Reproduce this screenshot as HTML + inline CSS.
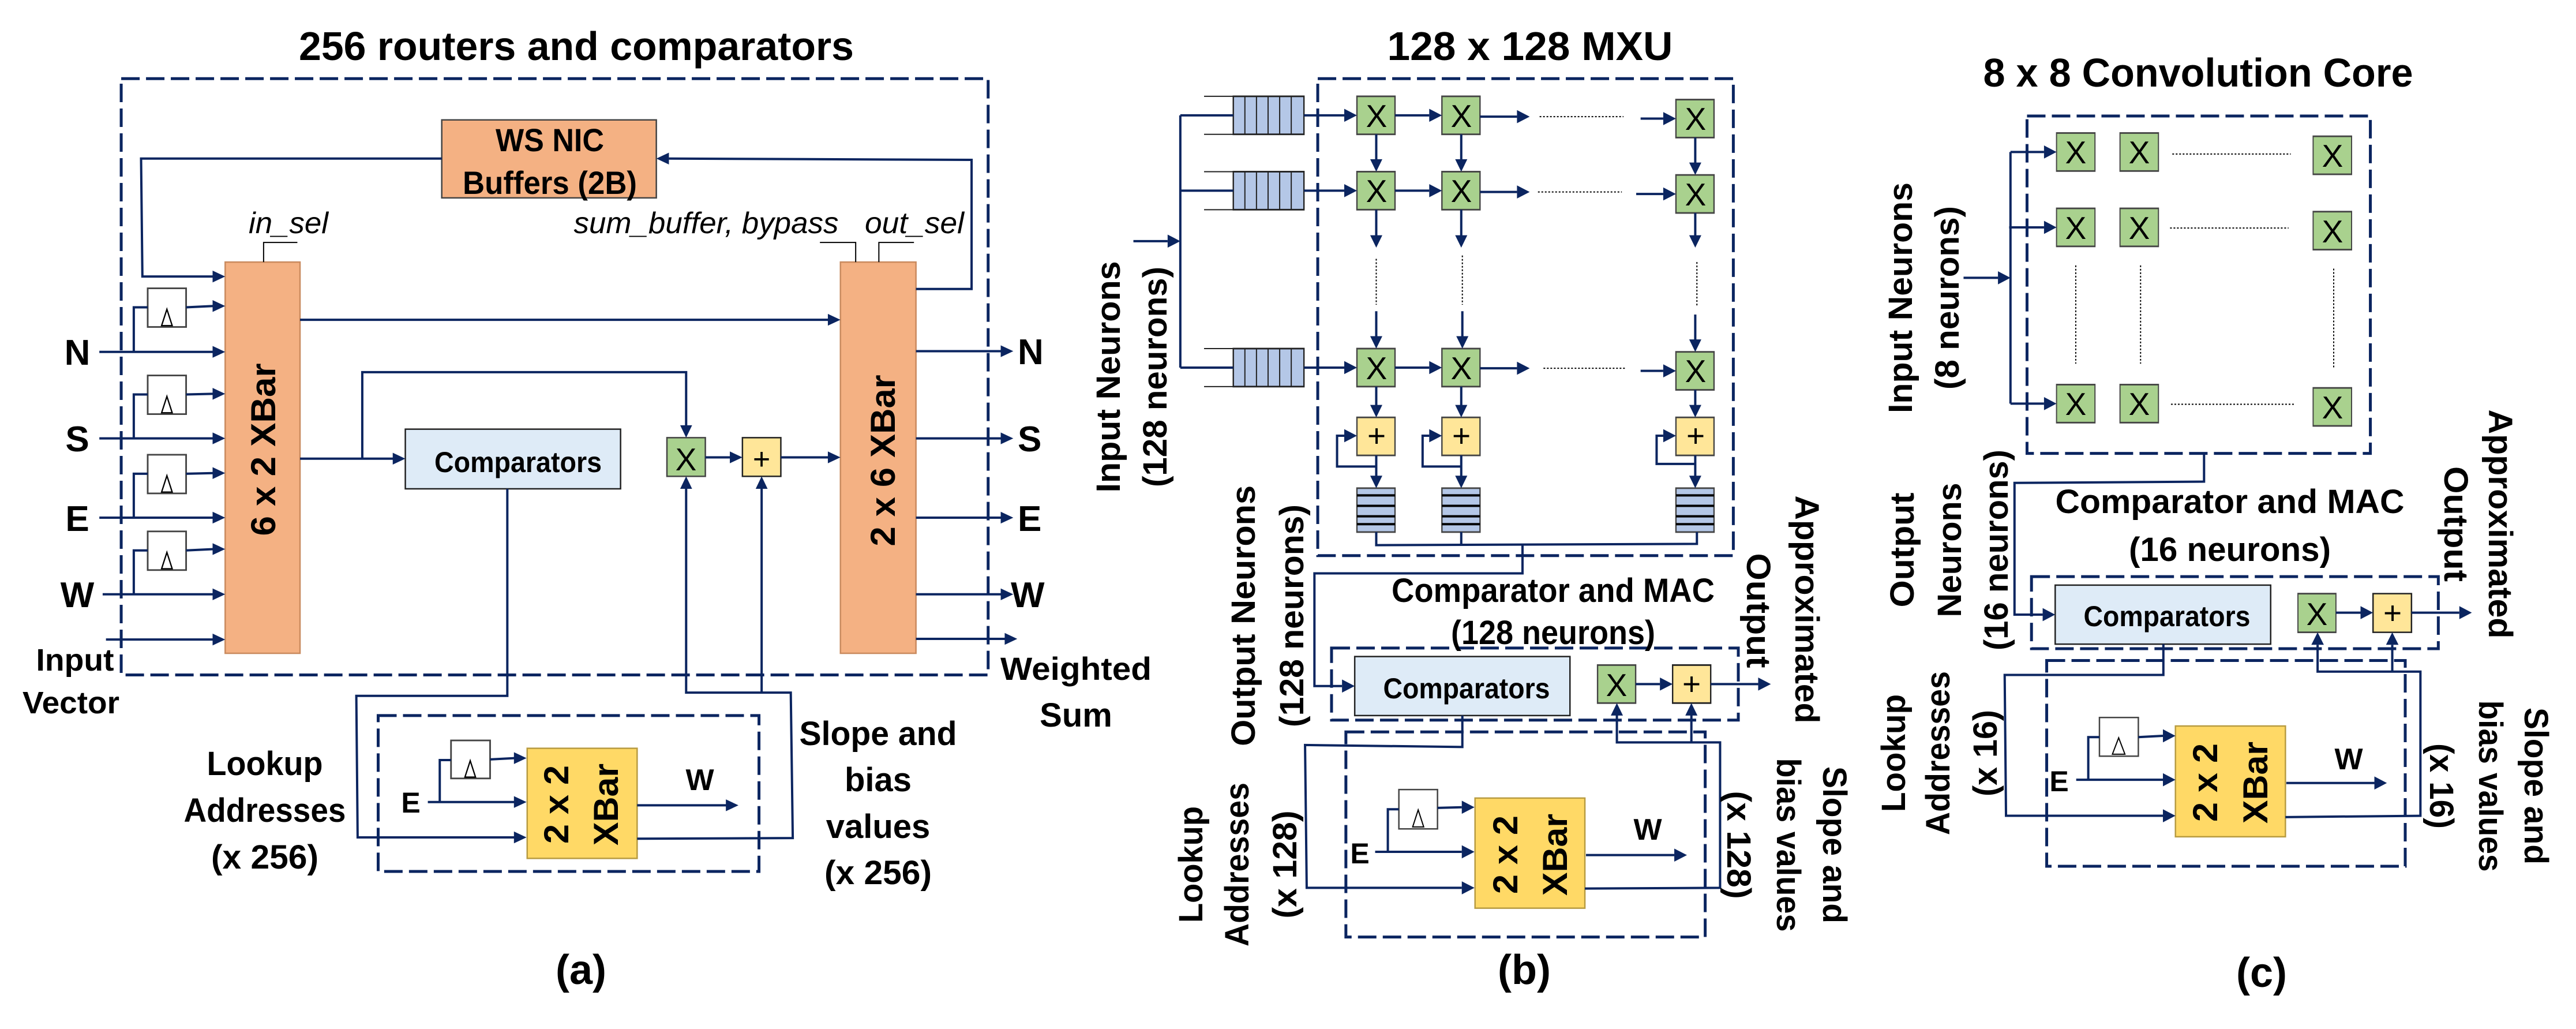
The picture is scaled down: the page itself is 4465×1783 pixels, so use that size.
<!DOCTYPE html>
<html><head><meta charset="utf-8"><style>
html,body{margin:0;padding:0;background:#fff}
svg text{font-family:"Liberation Sans",Arial,sans-serif;fill:#000}
.ln{fill:none;stroke:#0b2560;stroke-width:4;vector-effect:non-scaling-stroke}
.dl{fill:none;stroke:#0b2560;stroke-width:5;stroke-dasharray:32 11;vector-effect:non-scaling-stroke}
.dt{fill:none;stroke:#000;stroke-width:2;stroke-dasharray:3 3;vector-effect:non-scaling-stroke}
.tk{fill:none;stroke:#000;stroke-width:2;vector-effect:non-scaling-stroke}
.ah{fill:#0b2560;stroke:none}
.bx{stroke:#444;stroke-width:2.5;vector-effect:non-scaling-stroke}
.or{fill:#F4B183}.gr{fill:#A9D18E}.ye{fill:#FFE699}.yx{fill:#FFD966}.bl{fill:#DEEBF7}.qu{fill:#B4C7E7}.wh{fill:#fff}
.b{font-weight:bold}
</style></head><body>
<svg xmlns="http://www.w3.org/2000/svg" width="4465" height="1778" viewBox="0 0 4465 1778">
<rect width="4465" height="1778" fill="#fff"/>

<!-- ================= PANEL A ================= -->
<svg x="0" y="0" width="1800" height="1778" viewBox="0 0 1568 1566" preserveAspectRatio="none">
<rect class="dl" x="183" y="120" width="1309" height="910"/>
<rect class="bx or" x="667" y="183" width="324" height="119"/>
<rect class="bx or" x="340" y="400" width="113" height="597" style="stroke:#c98a5e"/>
<rect class="bx or" x="1269" y="400" width="114" height="597" style="stroke:#c98a5e"/>
<rect class="bx bl" x="612" y="655" width="325" height="91" style="stroke:#222"/>
<rect class="bx gr" x="1007" y="668" width="58" height="59"/>
<rect class="bx ye" x="1121" y="668" width="58" height="59" style="stroke:#222"/>
<rect class="dl" x="571" y="1092" width="575" height="238"/>
<rect class="bx yx" x="796" y="1142" width="166" height="168" style="stroke:#b89b40"/>
<g class="bx wh">
<rect x="223" y="440" width="58" height="59"/><rect x="223" y="573" width="58" height="59"/>
<rect x="223" y="694" width="58" height="59"/><rect x="223" y="811" width="58" height="59"/>
<rect x="681" y="1130" width="59" height="58"/>
</g>
<g fill="none" stroke="#000" stroke-width="2" style="vector-effect:non-scaling-stroke">
<path d="M244 497 L252 472 L260 497 Z M244 630 L252 605 L260 630 Z M244 751 L252 726 L260 751 Z M244 868 L252 843 L260 868 Z M702 1186 L710 1161 L718 1186 Z"/>
</g>
<path class="tk" d="M398 400 V370 H449 M1238 370 H1292 V400 M1327 400 V370 H1380"/>
<path class="ln" d="M667 242 H213 L215 422 H322 M1383 441 H1467 V244 L1010 242
M150 537 H322 M150 669 H322 M150 790 H322 M155 907 H322 M160 976 H322
M202 537 V469 H223 M202 669 V602 H223 M202 790 V723 H223 M202 907 V840 H223
M281 469 L322 467 M281 602 L322 601 M281 723 L322 722 M281 840 L322 838
M453 488 H1251 M453 700 L594 700 M547 700 V568 H1036 V650
M1065 698 H1103 M1179 698 H1251
M1383 536 H1512 M1383 669 H1512 M1383 790 H1512 M1383 907 H1512 M1383 975 H1518
M766 746 V1062 H538 L540 1278 H777
M646 1224 H777 M664 1224 V1160 H681 M740 1159 L777 1157 M962 1229 H1097
M962 1280 L1197 1279 L1194 1057 H1036 V746 M1150 1057 V746"/>
<path class="ah" d="M340 422 l-19 -9 v18z M340 537 l-19 -9 v18z M340 669 l-19 -9 v18z M340 790 l-19 -9 v18z M340 907 l-19 -9 v18z M340 976 l-19 -9 v18z
M340 467 l-19 -9 v18z M340 601 l-19 -9 v18z M340 722 l-19 -9 v18z M340 838 l-19 -9 v18z
M1269 488 l-19 -9 v18z M612 700 l-19 -9 v18z M1121 698 l-19 -9 v18z M1269 698 l-19 -9 v18z
M1530 536 l-19 -9 v18z M1530 669 l-19 -9 v18z M1530 790 l-19 -9 v18z M1530 907 l-19 -9 v18z M1536 975 l-19 -9 v18z
M795 1278 l-19 -9 v18z M795 1224 l-19 -9 v18z M795 1157 l-19 -9 v18z M1115 1229 l-19 -9 v18z
M1036 668 l-9 -19 h18z M1036 727 l-9 19 h18z M1150 727 l-9 19 h18z M991 242 l19 -9 v18z"/>
</svg>

<!-- ================= PANEL B ================= -->
<svg x="1800" y="0" width="1500" height="1778" viewBox="0 0 1568 1566" preserveAspectRatio="none">
<rect class="dl" x="506" y="120" width="753" height="728"/>
<g class="bx qu" style="stroke:#222">
<rect x="353" y="147" width="128" height="58"/><rect x="353" y="262" width="128" height="58"/><rect x="353" y="532" width="128" height="58"/>
</g>
<path class="tk" style="stroke:#222" d="M374 147 V205 M395 147 V205 M416 147 V205 M437 147 V205 M458 147 V205
M374 262 V320 M395 262 V320 M416 262 V320 M437 262 V320 M458 262 V320
M374 532 V590 M395 532 V590 M416 532 V590 M437 532 V590 M458 532 V590
M300 147 H353 M300 205 H353 M300 262 H353 M300 320 H353 M300 532 H353 M300 590 H353"/>
<g class="bx gr">
<rect x="577" y="147" width="69" height="58"/><rect x="731" y="147" width="69" height="58"/><rect x="1155" y="152" width="69" height="58"/>
<rect x="577" y="262" width="69" height="58"/><rect x="731" y="262" width="69" height="58"/><rect x="1155" y="267" width="69" height="58"/>
<rect x="577" y="532" width="69" height="58"/><rect x="731" y="532" width="69" height="58"/><rect x="1155" y="537" width="69" height="58"/>
<rect x="1013" y="1015" width="69" height="58"/>
</g>
<g class="bx ye">
<rect x="577" y="637" width="69" height="58"/><rect x="731" y="637" width="69" height="58"/><rect x="1155" y="637" width="69" height="58"/>
<rect x="1149" y="1015" width="69" height="58" style="stroke:#222"/>
</g>
<g class="bx qu">
<rect x="577" y="745" width="69" height="67"/><rect x="731" y="745" width="69" height="67"/><rect x="1155" y="745" width="69" height="67"/>
</g>
<path fill="none" stroke="#000" stroke-width="4" style="vector-effect:non-scaling-stroke" d="M577 756 H646 M577 772 H646 M577 788 H646 M577 800 H646
M731 756 H800 M731 772 H800 M731 788 H800 M731 800 H800 M1155 756 H1224 M1155 772 H1224 M1155 788 H1224 M1155 800 H1224"/>
<rect class="dl" x="531" y="989" width="737" height="110"/>
<rect class="bx bl" x="573" y="1002" width="390" height="90" style="stroke:#222"/>
<rect class="dl" x="557" y="1117" width="651" height="313"/>
<rect class="bx yx" x="791" y="1218" width="199" height="168" style="stroke:#b89b40"/>
<rect class="bx wh" x="653" y="1205" width="70" height="60"/>
<path fill="none" stroke="#000" stroke-width="2" style="vector-effect:non-scaling-stroke" d="M678 1262 L688 1236 L698 1262 Z"/>
<path class="dt" d="M908 178 H1060 M905 293 H1057 M915 562 H1065 M612 395 V465 M768 390 V465 M1193 400 V468"/>
<path class="ln" d="M257 176 V561 M257 176 H353 M257 291 H353 M257 561 H353 M172 368 H234
M481 176 H554 M481 291 H554 M481 561 H554 M646 176 H708 M646 291 H708 M646 561 H708
M800 178 H867 M800 293 H867 M800 562 H867 M1091 181 H1132 M1083 296 H1132 M1091 566 H1132
M612 205 V244 M766 205 V244 M1190 210 V249 M612 320 V360 M766 320 V360 M1190 325 V360
M612 475 V514 M768 475 V514 M1190 480 V519 M612 590 V619 M766 590 V619 M1190 595 V619
M612 695 V727 M766 695 V727 M1190 695 V727
M612 712 H541 V665 H554 M766 712 H696 V665 H708 M1190 708 H1120 V665 H1132
M612 812 V832 L1193 830 V812 M766 812 V832 M877 831 V875 H500 V1047 H550
M1082 1044 H1126 M1218 1044 H1304
M768 1092 V1140 L483 1137 L486 1355 H767
M610 1300 H767 M633 1300 V1235 H653 M723 1233 L767 1232 M992 1305 H1152
M990 1356 L1235 1355 V1133 H1048 V1091 M1183 1133 V1091"/>
<path class="ah" d="M257 368 l-23 -10 v20z M577 176 l-23 -10 v20z M577 291 l-23 -10 v20z M577 561 l-23 -10 v20z
M731 176 l-23 -10 v20z M731 291 l-23 -10 v20z M731 561 l-23 -10 v20z
M890 178 l-23 -10 v20z M890 293 l-23 -10 v20z M890 562 l-23 -10 v20z
M1155 181 l-23 -10 v20z M1155 296 l-23 -10 v20z M1155 566 l-23 -10 v20z
M577 665 l-23 -10 v20z M731 665 l-23 -10 v20z M1155 665 l-23 -10 v20z
M573 1047 l-23 -10 v20z M1149 1044 l-23 -10 v20z M1327 1044 l-23 -10 v20z
M790 1355 l-23 -10 v20z M790 1300 l-23 -10 v20z M790 1232 l-23 -10 v20z M1175 1305 l-23 -10 v20z
M612 262 l-11 -19 h22z M766 262 l-11 -19 h22z M1190 267 l-11 -19 h22z
M612 378 l-11 -19 h22z M766 378 l-11 -19 h22z M1190 378 l-11 -19 h22z
M612 532 l-11 -19 h22z M768 532 l-11 -19 h22z M1190 537 l-11 -19 h22z
M612 637 l-11 -19 h22z M766 637 l-11 -19 h22z M1190 637 l-11 -19 h22z
M612 745 l-11 -19 h22z M766 745 l-11 -19 h22z M1190 745 l-11 -19 h22z
M1048 1073 l-11 19 h22z M1183 1073 l-11 19 h22z"/>
</svg>

<!-- ================= PANEL C ================= -->
<svg x="3250" y="0" width="1215" height="1778" viewBox="0 0 1568 1566" preserveAspectRatio="none">
<rect class="dl" x="340" y="177" width="768" height="515"/>
<g class="bx gr">
<rect x="406" y="203" width="86" height="58"/><rect x="548" y="203" width="86" height="58"/><rect x="980" y="208" width="86" height="58"/>
<rect x="406" y="318" width="86" height="58"/><rect x="548" y="318" width="86" height="58"/><rect x="980" y="323" width="86" height="58"/>
<rect x="406" y="587" width="86" height="58"/><rect x="548" y="587" width="86" height="58"/><rect x="980" y="592" width="86" height="58"/>
<rect x="946" y="906" width="85" height="59"/>
</g>
<rect class="bx ye" x="1114" y="906" width="86" height="59" style="stroke:#222"/>
<rect class="dl" x="350" y="880" width="910" height="110"/>
<rect class="bx bl" x="403" y="893" width="482" height="90" style="stroke:#222"/>
<rect class="dl" x="384" y="1008" width="802" height="314"/>
<rect class="bx yx" x="672" y="1108" width="246" height="169" style="stroke:#b89b40"/>
<rect class="bx wh" x="502" y="1095" width="87" height="59"/>
<path fill="none" stroke="#000" stroke-width="2" style="vector-effect:non-scaling-stroke" d="M531 1151 L545 1126 L559 1151 Z"/>
<path class="dt" d="M665 235 H930 M660 348 H925 M662 617 H937 M449 405 V555 M594 405 V555 M1026 410 V562"/>
<path class="ln" d="M303 232 V616 M303 232 H378 M300 347 H378 M303 616 H378 M198 424 H275
M736 692 V735 L312 737 V938 H375 M1031 935 H1086 M1200 935 H1307
M645 983 V1030 H290 L293 1245 H644 M450 1190 H644 M477 1190 V1125 H502 M589 1125 L644 1123
M920 1195 H1117 M918 1247 L1220 1245 V1025 H990 V984 M1157 1025 V984"/>
<path class="ah" d="M406 232 l-28 -10 v20z M406 347 l-28 -10 v20z M406 616 l-28 -10 v20z M303 424 l-28 -10 v20z
M403 938 l-28 -10 v20z M1114 935 l-28 -10 v20z M1335 935 l-28 -10 v20z
M672 1245 l-28 -10 v20z M672 1190 l-28 -10 v20z M672 1123 l-28 -10 v20z M1145 1195 l-28 -10 v20z
M990 965 l-14 19 h28z M1157 965 l-14 19 h28z"/>
</svg>

<!-- ================= TEXT PANEL A ================= -->
<g class="b">
<text x="999" y="104" font-size="70" text-anchor="middle" textLength="962" lengthAdjust="spacingAndGlyphs">256 routers and comparators</text>
<text x="953" y="262" font-size="56" text-anchor="middle" textLength="188" lengthAdjust="spacingAndGlyphs">WS NIC</text>
<text x="953" y="336" font-size="56" text-anchor="middle" textLength="302" lengthAdjust="spacingAndGlyphs">Buffers (2B)</text>
<text transform="translate(456,779) rotate(-90)" y="21" font-size="60" text-anchor="middle" textLength="299" lengthAdjust="spacingAndGlyphs">6 x 2 XBar</text>
<text transform="translate(1530,798) rotate(-90)" y="21" font-size="60" text-anchor="middle" textLength="297" lengthAdjust="spacingAndGlyphs">2 x 6 XBar</text>
<text x="898" y="818" font-size="50" text-anchor="middle" textLength="290" lengthAdjust="spacingAndGlyphs">Comparators</text>
<text x="134" y="632" font-size="62" text-anchor="middle">N</text>
<text x="134" y="782" font-size="62" text-anchor="middle">S</text>
<text x="134" y="920" font-size="62" text-anchor="middle">E</text>
<text x="134" y="1052" font-size="62" text-anchor="middle">W</text>
<text x="1764" y="631" font-size="62">N</text>
<text x="1764" y="782" font-size="62">S</text>
<text x="1764" y="920" font-size="62">E</text>
<text x="1752" y="1052" font-size="62">W</text>
<text x="130" y="1162" font-size="54" text-anchor="middle" textLength="135" lengthAdjust="spacingAndGlyphs">Input</text>
<text x="123" y="1236" font-size="54" text-anchor="middle" textLength="168" lengthAdjust="spacingAndGlyphs">Vector</text>
<text x="1865" y="1178" font-size="56" text-anchor="middle" textLength="262" lengthAdjust="spacingAndGlyphs">Weighted</text>
<text x="1865" y="1259" font-size="58" text-anchor="middle">Sum</text>
<text x="712" y="1408" font-size="50" text-anchor="middle">E</text>
<text transform="translate(964,1394) rotate(-90)" y="21" font-size="60" text-anchor="middle" textLength="136" lengthAdjust="spacingAndGlyphs">2 x 2</text>
<text transform="translate(1050,1394) rotate(-90)" y="21" font-size="60" text-anchor="middle" textLength="142" lengthAdjust="spacingAndGlyphs">XBar</text>
<text x="1213" y="1369" font-size="52" text-anchor="middle">W</text>
<text x="459" y="1343" font-size="58" text-anchor="middle" textLength="201" lengthAdjust="spacingAndGlyphs">Lookup</text>
<text x="459" y="1424" font-size="58" text-anchor="middle" textLength="281" lengthAdjust="spacingAndGlyphs">Addresses</text>
<text x="459" y="1505" font-size="58" text-anchor="middle" textLength="186" lengthAdjust="spacingAndGlyphs">(x 256)</text>
<text x="1522" y="1291" font-size="58" text-anchor="middle" textLength="273" lengthAdjust="spacingAndGlyphs">Slope and</text>
<text x="1522" y="1371" font-size="58" text-anchor="middle">bias</text>
<text x="1522" y="1452" font-size="58" text-anchor="middle">values</text>
<text x="1522" y="1532" font-size="58" text-anchor="middle" textLength="186" lengthAdjust="spacingAndGlyphs">(x 256)</text>
<text x="1007" y="1705" font-size="72" text-anchor="middle">(a)</text>
</g>
<text x="500" y="404" font-size="52" font-style="italic" text-anchor="middle" textLength="138" lengthAdjust="spacingAndGlyphs">in_sel</text>
<text x="1224" y="404" font-size="52" font-style="italic" text-anchor="middle" textLength="459" lengthAdjust="spacingAndGlyphs">sum_buffer, bypass</text>
<text x="1585" y="404" font-size="52" font-style="italic" text-anchor="middle" textLength="172" lengthAdjust="spacingAndGlyphs">out_sel</text>
<text x="1189" y="815" font-size="55" text-anchor="middle">X</text>
<text x="1320" y="813" font-size="52" text-anchor="middle">+</text>

<!-- ================= TEXT PANEL B ================= -->
<g class="b">
<text x="2652" y="104" font-size="70" text-anchor="middle" textLength="495" lengthAdjust="spacingAndGlyphs">128 x 128 MXU</text>
<text transform="translate(1920,653) rotate(-90)" y="21" font-size="58" text-anchor="middle" textLength="401" lengthAdjust="spacingAndGlyphs">Input Neurons</text>
<text transform="translate(2001,653) rotate(-90)" y="21" font-size="58" text-anchor="middle" textLength="382" lengthAdjust="spacingAndGlyphs">(128 neurons)</text>
<text transform="translate(2154,1067) rotate(-90)" y="21" font-size="58" text-anchor="middle" textLength="452" lengthAdjust="spacingAndGlyphs">Output Neurons</text>
<text transform="translate(2238,1067) rotate(-90)" y="21" font-size="58" text-anchor="middle" textLength="386" lengthAdjust="spacingAndGlyphs">(128 neurons)</text>
<text x="2692" y="1043" font-size="58" text-anchor="middle" textLength="560" lengthAdjust="spacingAndGlyphs">Comparator and MAC</text>
<text x="2692" y="1116" font-size="58" text-anchor="middle" textLength="354" lengthAdjust="spacingAndGlyphs">(128 neurons)</text>
<text x="2542" y="1210" font-size="50" text-anchor="middle" textLength="289" lengthAdjust="spacingAndGlyphs">Comparators</text>
<text transform="translate(3049,1058) rotate(90)" y="21" font-size="58" text-anchor="middle" textLength="199" lengthAdjust="spacingAndGlyphs">Output</text>
<text transform="translate(3133,1056) rotate(90)" y="21" font-size="58" text-anchor="middle" textLength="395" lengthAdjust="spacingAndGlyphs">Approximated</text>
<text x="2357" y="1496" font-size="50" text-anchor="middle">E</text>
<text transform="translate(2609,1481) rotate(-90)" y="21" font-size="60" text-anchor="middle" textLength="136" lengthAdjust="spacingAndGlyphs">2 x 2</text>
<text transform="translate(2695,1481) rotate(-90)" y="21" font-size="60" text-anchor="middle" textLength="142" lengthAdjust="spacingAndGlyphs">XBar</text>
<text x="2856" y="1455" font-size="52" text-anchor="middle">W</text>
<text transform="translate(2063,1498) rotate(-90)" y="21" font-size="58" text-anchor="middle" textLength="202" lengthAdjust="spacingAndGlyphs">Lookup</text>
<text transform="translate(2143,1498) rotate(-90)" y="21" font-size="58" text-anchor="middle" textLength="284" lengthAdjust="spacingAndGlyphs">Addresses</text>
<text transform="translate(2226,1498) rotate(-90)" y="21" font-size="58" text-anchor="middle" textLength="187" lengthAdjust="spacingAndGlyphs">(x 128)</text>
<text transform="translate(3015,1464) rotate(90)" y="21" font-size="58" text-anchor="middle" textLength="187" lengthAdjust="spacingAndGlyphs">(x 128)</text>
<text transform="translate(3101,1464) rotate(90)" y="21" font-size="58" text-anchor="middle" textLength="301" lengthAdjust="spacingAndGlyphs">bias values</text>
<text transform="translate(3181,1464) rotate(90)" y="21" font-size="58" text-anchor="middle" textLength="272" lengthAdjust="spacingAndGlyphs">Slope and</text>
<text x="2642" y="1705" font-size="72" text-anchor="middle">(b)</text>
</g>
<g font-size="55" text-anchor="middle">
<text x="2386" y="220">X</text><text x="2533" y="220">X</text><text x="2939" y="225">X</text>
<text x="2386" y="350">X</text><text x="2533" y="350">X</text><text x="2939" y="356">X</text>
<text x="2386" y="657">X</text><text x="2533" y="657">X</text><text x="2939" y="662">X</text>
<text x="2386" y="774">+</text><text x="2533" y="774">+</text><text x="2939" y="774">+</text>
<text x="2802" y="1206">X</text><text x="2932" y="1204">+</text>
</g>

<!-- ================= TEXT PANEL C ================= -->
<g class="b">
<text x="3810" y="150" font-size="70" text-anchor="middle" textLength="745" lengthAdjust="spacingAndGlyphs">8 x 8 Convolution Core</text>
<text transform="translate(3293,516) rotate(-90)" y="21" font-size="58" text-anchor="middle" textLength="400" lengthAdjust="spacingAndGlyphs">Input Neurons</text>
<text transform="translate(3374,516) rotate(-90)" y="21" font-size="58" text-anchor="middle" textLength="318" lengthAdjust="spacingAndGlyphs">(8 neurons)</text>
<text transform="translate(3296,953) rotate(-90)" y="21" font-size="58" text-anchor="middle" textLength="199" lengthAdjust="spacingAndGlyphs">Output</text>
<text transform="translate(3378,953) rotate(-90)" y="21" font-size="58" text-anchor="middle" textLength="233" lengthAdjust="spacingAndGlyphs">Neurons</text>
<text transform="translate(3459,953) rotate(-90)" y="21" font-size="58" text-anchor="middle" textLength="348" lengthAdjust="spacingAndGlyphs">(16 neurons)</text>
<text x="3865" y="889" font-size="58" text-anchor="middle" textLength="605" lengthAdjust="spacingAndGlyphs">Comparator and MAC</text>
<text x="3865" y="972" font-size="58" text-anchor="middle" textLength="350" lengthAdjust="spacingAndGlyphs">(16 neurons)</text>
<text x="3756" y="1085" font-size="50" text-anchor="middle" textLength="289" lengthAdjust="spacingAndGlyphs">Comparators</text>
<text transform="translate(4258,908) rotate(90)" y="21" font-size="58" text-anchor="middle" textLength="200" lengthAdjust="spacingAndGlyphs">Output</text>
<text transform="translate(4335,908) rotate(90)" y="21" font-size="58" text-anchor="middle" textLength="397" lengthAdjust="spacingAndGlyphs">Approximated</text>
<text x="3569" y="1371" font-size="50" text-anchor="middle">E</text>
<text transform="translate(3822,1356) rotate(-90)" y="21" font-size="60" text-anchor="middle" textLength="136" lengthAdjust="spacingAndGlyphs">2 x 2</text>
<text transform="translate(3909,1356) rotate(-90)" y="21" font-size="60" text-anchor="middle" textLength="142" lengthAdjust="spacingAndGlyphs">XBar</text>
<text x="4071" y="1333" font-size="52" text-anchor="middle">W</text>
<text transform="translate(3281,1305) rotate(-90)" y="21" font-size="58" text-anchor="middle" textLength="204" lengthAdjust="spacingAndGlyphs">Lookup</text>
<text transform="translate(3358,1305) rotate(-90)" y="21" font-size="58" text-anchor="middle" textLength="284" lengthAdjust="spacingAndGlyphs">Addresses</text>
<text transform="translate(3440,1305) rotate(-90)" y="21" font-size="58" text-anchor="middle" textLength="150" lengthAdjust="spacingAndGlyphs">(x 16)</text>
<text transform="translate(4233,1362) rotate(90)" y="21" font-size="58" text-anchor="middle" textLength="148" lengthAdjust="spacingAndGlyphs">(x 16)</text>
<text transform="translate(4318,1362) rotate(90)" y="21" font-size="58" text-anchor="middle" textLength="297" lengthAdjust="spacingAndGlyphs">bias values</text>
<text transform="translate(4397,1362) rotate(90)" y="21" font-size="58" text-anchor="middle" textLength="272" lengthAdjust="spacingAndGlyphs">Slope and</text>
<text x="3920" y="1710" font-size="72" text-anchor="middle">(c)</text>
</g>
<g font-size="55" text-anchor="middle">
<text x="3598" y="283">X</text><text x="3708" y="283">X</text><text x="4043" y="289">X</text>
<text x="3598" y="414">X</text><text x="3708" y="414">X</text><text x="4043" y="420">X</text>
<text x="3598" y="719">X</text><text x="3708" y="719">X</text><text x="4043" y="725">X</text>
<text x="4016" y="1083">X</text><text x="4147" y="1081">+</text>
</g>
</svg>
</body></html>
